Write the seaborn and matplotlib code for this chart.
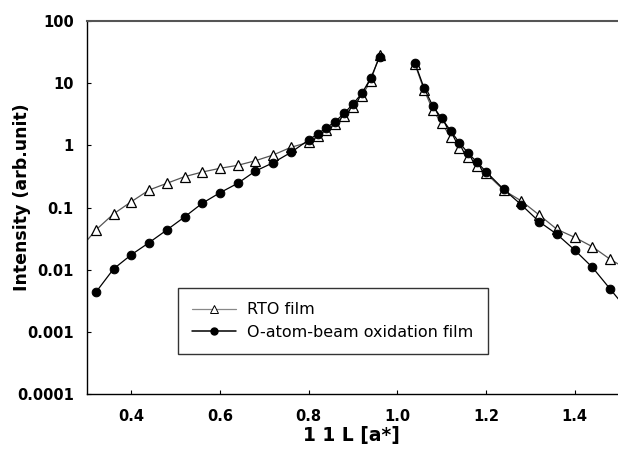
import numpy as np
import pandas as pd
import seaborn as sns
import matplotlib.pyplot as plt
from matplotlib.lines import Line2D

# values
rto_l = [0.28, 0.32, 0.36, 0.40, 0.44, 0.48, 0.52, 0.56, 0.60, 0.64, 0.68, 0.72, 0.76,
         0.80, 0.82, 0.84, 0.86, 0.88, 0.90, 0.92, 0.94, 0.96,
         1.04, 1.06, 1.08, 1.10, 1.12, 1.14, 1.16, 1.18, 1.20,
         1.24, 1.28, 1.32, 1.36, 1.40, 1.44, 1.48, 1.52]
rto_int = [0.020, 0.0435, 0.079, 0.124, 0.191, 0.245, 0.313, 0.372, 0.427, 0.477, 0.566, 0.70, 0.93,
           1.12, 1.40, 1.78, 2.22, 3.0, 4.2, 6.2, 11.0, 28.5,
           20.0, 7.9, 3.7, 2.26, 1.38, 0.906, 0.656, 0.466, 0.355,
           0.19, 0.127, 0.0758, 0.0446, 0.0331, 0.0234, 0.0147, 0.010]

oab_l = [0.32, 0.36, 0.40, 0.44, 0.48, 0.52, 0.56, 0.60, 0.64, 0.68, 0.72, 0.76,
         0.80, 0.82, 0.84, 0.86, 0.88, 0.90, 0.92, 0.94, 0.96,
         1.04, 1.06, 1.08, 1.10, 1.12, 1.14, 1.16, 1.18, 1.20,
         1.24, 1.28, 1.32, 1.36, 1.40, 1.44, 1.48, 1.52]
oab_int = [0.00433, 0.0103, 0.0174, 0.0272, 0.0435, 0.0704, 0.117, 0.173, 0.245, 0.386, 0.526, 0.77,
           1.22, 1.52, 1.92, 2.40, 3.28, 4.62, 6.87, 12.0, 26.4,
           20.9, 8.45, 4.29, 2.72, 1.72, 1.10, 0.745, 0.533, 0.377,
           0.196, 0.110, 0.0591, 0.0371, 0.0207, 0.0109, 0.00489, 0.0022]

labels = ['RTO film', 'O-atom-beam oxidation film']
xticks = [0.4, 0.6, 0.8, 1.0, 1.2, 1.4]
xticklabels = ['0.4', '0.6', '0.8', '1.0', '1.2', '1.4']
yticks = [1e-4, 1e-3, 1e-2, 1e-1, 1, 10, 100]
yticklabels = ['0.0001', '0.001', '0.01', '0.1', '1', '10', '100']

rto = pd.DataFrame({'L': rto_l, 'I': rto_int})
rto['branch'] = np.where(rto['L'] < 1.0, 'left', 'right')
oab = pd.DataFrame({'L': oab_l, 'I': oab_int})
oab['branch'] = np.where(oab['L'] < 1.0, 'left', 'right')

sns.set_style('white')
plt.rcParams['font.family'] = ['DejaVu Sans']
plt.rcParams['text.color'] = 'black'
plt.rcParams['axes.labelcolor'] = 'black'
plt.rcParams['xtick.color'] = 'black'
plt.rcParams['ytick.color'] = 'black'

fig = plt.figure(figsize=(6.18, 4.55), dpi=100)
ax = fig.add_axes([87 / 618, 61 / 455, 532 / 618, 373 / 455])

sns.lineplot(data=rto, x='L', y='I', units='branch', estimator=None, ax=ax,
             color='#555555', linewidth=0.9, marker='^', markersize=7,
             markerfacecolor='white', markeredgecolor='black', markeredgewidth=0.9,
             zorder=2)
sns.lineplot(data=oab, x='L', y='I', units='branch', estimator=None, ax=ax,
             color='black', linewidth=0.9, marker='o', markersize=6.2,
             markerfacecolor='black', markeredgecolor='black', zorder=3)

ax.set_yscale('log')
ax.set_xlim(0.3, 1.5)
ax.set_ylim(1e-4, 100)
ax.set_xticks(xticks)
ax.set_xticklabels(xticklabels, fontweight='bold', fontsize=10.5)
ax.set_yticks(yticks)
ax.set_yticklabels(yticklabels, fontweight='bold', fontsize=10.5)
ax.minorticks_off()
ax.tick_params(axis='x', direction='in', length=3, width=0.8, pad=10.5, bottom=True)
ax.tick_params(axis='y', direction='in', length=3, width=0.8, pad=9.5, left=True)
ax.set_xlabel('')
ax.set_ylabel('')

for side in ['left', 'bottom']:
    ax.spines[side].set_color('black')
    ax.spines[side].set_linewidth(1.0)
ax.spines['top'].set_color('#555555')
ax.spines['top'].set_linewidth(1.5)
ax.spines['right'].set_visible(False)

fig.text(22 / 618, 1 - 197 / 455, 'Intensity (arb.unit)', rotation=90,
         ha='center', va='center', fontsize=12.5, fontweight='bold')
fig.text(351 / 618, 1 - 435 / 455, '1 1 L [a*]', ha='center', va='center',
         fontsize=13.5, fontweight='bold')

handles = [
    Line2D([], [], color='#888888', linewidth=0.9, marker='^', markersize=5.5,
           markerfacecolor='white', markeredgecolor='black', markeredgewidth=0.7),
    Line2D([], [], color='black', linewidth=1.1, marker='o', markersize=5,
           markerfacecolor='black', markeredgecolor='black'),
]
leg = ax.legend(handles, labels, loc='upper left',
                bbox_to_anchor=(178 / 618, 1 - 288 / 455), bbox_transform=fig.transFigure,
                borderaxespad=0, fontsize=11.5, frameon=True, fancybox=False,
                edgecolor='black', handlelength=2.7, handletextpad=0.75,
                borderpad=0.9, labelspacing=0.45)
leg.get_frame().set_linewidth(1.0)

fig.savefig('out.png', dpi=100)
